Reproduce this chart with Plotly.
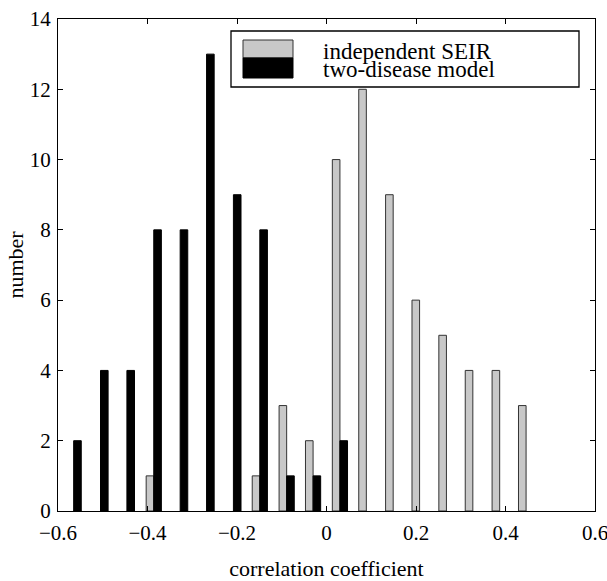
import plotly.graph_objects as go

bin_centers = [-0.565, -0.505, -0.446, -0.386, -0.327, -0.268, -0.208, -0.149, -0.089,
               -0.030, 0.030, 0.089, 0.149, 0.208, 0.268, 0.327, 0.387, 0.446]
independent_seir = [0, 0, 0, 1, 0, 0, 0, 1, 3, 2, 10, 12, 9, 6, 5, 4, 4, 3]
two_disease = [2, 4, 4, 8, 8, 13, 9, 8, 1, 1, 2, 0, 0, 0, 0, 0, 0, 0]
series_names = ["independent SEIR", "two-disease model"]
x_ticks = [-0.6, -0.4, -0.2, 0, 0.2, 0.4, 0.6]
y_ticks = [0, 2, 4, 6, 8, 10, 12, 14]

FONT = "Liberation Serif, Times New Roman, serif"
GRAY = "#c8c8c8"


def nz(vals):
    # empty bins draw nothing (as in the reference)
    return [v if v else None for v in vals]


fig = go.Figure()
fig.add_trace(go.Bar(x=bin_centers, y=nz(independent_seir), name=series_names[0],
                     marker=dict(color=GRAY, line=dict(color="#333333", width=1)),
                     showlegend=False))
fig.add_trace(go.Bar(x=bin_centers, y=nz(two_disease), name=series_names[1],
                     marker=dict(color="black", line=dict(color="black", width=1)),
                     showlegend=False))

axis_common = dict(showgrid=False, zeroline=False, showline=True, linecolor="black",
                   linewidth=1, mirror="ticks", ticks="inside", ticklen=5,
                   tickcolor="black", automargin=False, ticklabeloverflow="allow",
                   tickfont=dict(family=FONT, size=21, color="black"))

fig.update_xaxes(range=[-0.6, 0.6], tickvals=x_ticks,
                 ticktext=[("\u2212" if v < 0 else "") + (f"{abs(v):g}" if v != 0 else "0") for v in x_ticks],
                 ticklabelstandoff=3,
                 title=dict(text="correlation coefficient", font=dict(family=FONT, size=22, color="black"),
                            standoff=16),
                 **axis_common)
fig.update_yaxes(range=[0, 14], tickvals=y_ticks, ticklabelstandoff=2,
                 title=dict(text="number", font=dict(family=FONT, size=22, color="black"),
                            standoff=0),
                 **axis_common)

# custom MATLAB-style legend (positions in pixels of the plot box)
px0, px1 = 58, 595
py0, py1 = 19, 511


def pxx(v):
    return (v - px0) / (px1 - px0)


def pxy(v):
    return (py1 - v) / (py1 - py0)


shapes = [
    dict(type="rect", xref="paper", yref="paper", x0=pxx(231), x1=pxx(579), y0=pxy(87), y1=pxy(31),
         line=dict(color="black", width=1.3), fillcolor="white", layer="above"),
    dict(type="rect", xref="paper", yref="paper", x0=pxx(243), x1=pxx(293), y0=pxy(58), y1=pxy(40),
         line=dict(color="#333333", width=1), fillcolor=GRAY, layer="above"),
    dict(type="rect", xref="paper", yref="paper", x0=pxx(243), x1=pxx(293), y0=pxy(78), y1=pxy(58),
         line=dict(color="black", width=1), fillcolor="black", layer="above"),
]
annotations = [
    dict(text=series_names[0], xref="paper", yref="paper", x=pxx(321), y=pxy(51),
         xanchor="left", yanchor="middle", showarrow=False,
         font=dict(family=FONT, size=23, color="black")),
    dict(text=series_names[1], xref="paper", yref="paper", x=pxx(321), y=pxy(69),
         xanchor="left", yanchor="middle", showarrow=False,
         font=dict(family=FONT, size=23, color="black")),
]

fig.update_layout(width=607, height=581, barmode="group", bargap=0.425, bargroupgap=0,
                  plot_bgcolor="white", paper_bgcolor="white",
                  margin=dict(l=58, r=12, t=19, b=70),
                  shapes=shapes, annotations=annotations,
                  font=dict(family=FONT, color="black"))

# remove the browser's default 8px body margin so the figure fills the window exactly
fig.write_html("out.html", config={"displayModeBar": False},
               post_script="document.body.style.margin='0';")
